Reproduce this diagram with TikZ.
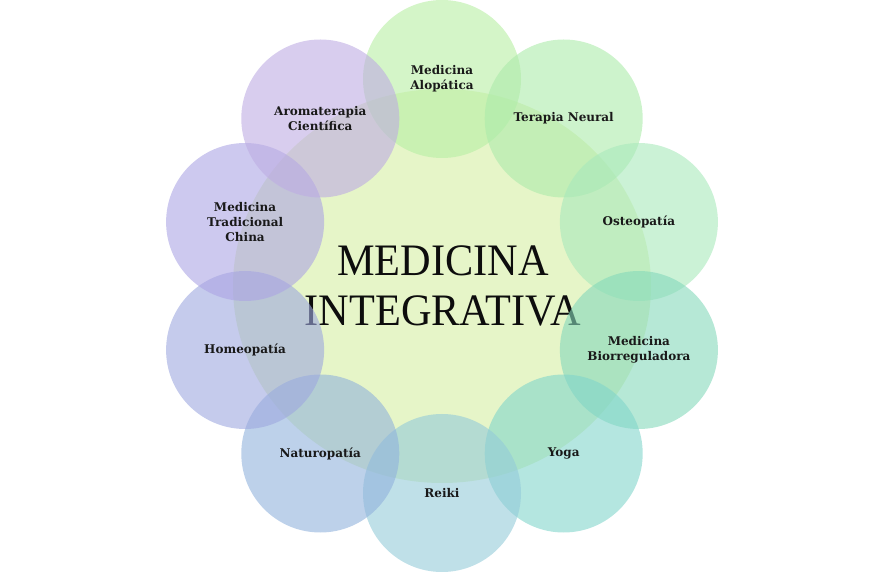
\documentclass[tikz,border=0pt]{standalone}
\usepackage{fontspec}
\usetikzlibrary{shapes.geometric}
\newfontfamily\hubfont{Liberation Serif}[FakeStretch=0.94]
\newfontfamily\petalfont{DejaVu Serif}

\definecolor{hubgreen}{RGB}{213,238,163}
\definecolor{cAlopatica}{RGB}{183,238,163}
\definecolor{cNeural}{RGB}{172,235,170}
\definecolor{cOsteo}{RGB}{168,233,187}
\definecolor{cBiorreg}{RGB}{133,217,187}
\definecolor{cYoga}{RGB}{130,213,203}
\definecolor{cReiki}{RGB}{148,203,217}
\definecolor{cNaturo}{RGB}{145,178,220}
\definecolor{cHomeo}{RGB}{158,168,223}
\definecolor{cChina}{RGB}{172,165,228}
\definecolor{cAroma}{RGB}{190,172,227}

\tikzset{
  petal/.style={circle, minimum size=158pt, inner sep=0pt, align=center,
    fill opacity=0.6, text opacity=1, text=black!90,
    font=\petalfont\bfseries\fontsize{12}{15}\selectfont},
}

\begin{document}
\begin{tikzpicture}[x=1pt,y=1pt]
    \useasboundingbox (0,0) rectangle (886,573);

    % The centre
    \node[ellipse, minimum width=418pt, minimum height=394pt, inner sep=0pt,
          fill=hubgreen, fill opacity=0.6] (hub) at (442,287) {};
    \node[align=center, text=black!95, font=\hubfont\fontsize{45}{50}\selectfont]
          (title) at (443,287) {MEDICINA\\INTEGRATIVA};

    % The ring of therapies
    \node[petal, fill=cAlopatica] (alopatica) at (442,494) {Medicina\\Alopática};
    \node[petal, fill=cNeural] (neural) at (563.7,454.5) {Terapia Neural};
    \node[petal, fill=cOsteo] (osteo) at (638.9,351) {Osteopatía};
    \node[petal, fill=cBiorreg] (biorreg) at (638.9,223) {Medicina\\Biorreguladora};
    \node[petal, fill=cYoga] (yoga) at (563.7,119.5) {Yoga};
    \node[petal, fill=cReiki] (reiki) at (442,80) {Reiki};
    \node[petal, fill=cNaturo] (naturo) at (320.3,119.5) {Naturopatía};
    \node[petal, fill=cHomeo] (homeo) at (245.1,223) {Homeopatía};
    \node[petal, fill=cChina] (china) at (245.1,351) {Medicina\\Tradicional\\China};
    \node[petal, fill=cAroma] (aroma) at (320.3,454.5) {Aromaterapia\\Científica};
\end{tikzpicture}
\end{document}
